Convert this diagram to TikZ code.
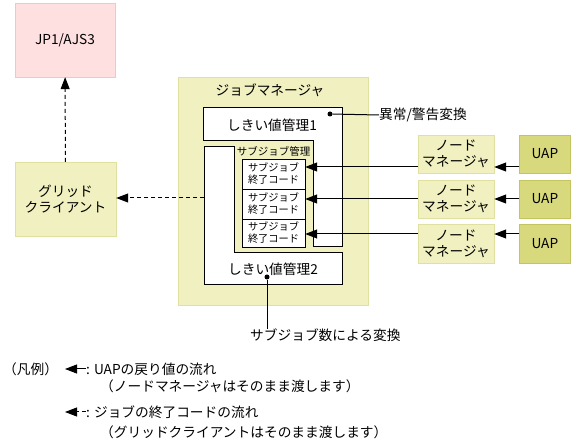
\documentclass[tikz,border=0pt]{standalone}
\usepackage{fontspec}
\setmainfont{Noto Sans CJK JP}
\usepackage{xcolor}
\usetikzlibrary{positioning, arrows.meta}
\definecolor{ajsfill}{RGB}{255, 224, 224}
\definecolor{ajsline}{RGB}{246, 196, 196}
\definecolor{pale}{RGB}{240, 240, 192}
\definecolor{paleline}{RGB}{224, 224, 160}
\definecolor{olive}{RGB}{216, 216, 124}
\definecolor{oliveline}{RGB}{196, 196, 96}

\begin{document}
\begin{tikzpicture}[
    x=1pt, y=-1pt,
    every node/.style={font=\fontsize{13.7}{16}\selectfont},
    product/.style={rectangle, draw=ajsline, fill=ajsfill, minimum width=100pt,
                    minimum height=74pt, align=center},
    comp/.style={rectangle, draw=paleline, fill=pale, minimum width=76pt,
                 minimum height=38pt, align=center, inner sep=1pt},
    uapbox/.style={rectangle, draw=oliveline, fill=olive, minimum width=51pt,
                   minimum height=38pt, align=center},
    subjob/.style={rectangle, draw=black, fill=white, minimum width=63pt,
                   inner sep=0pt, align=center, font=\fontsize{10.2}{12}\selectfont},
    txt/.style={inner sep=0pt},
    wall/.style={draw=black, line width=1pt, fill=white},
    arr/.style={-{Triangle[length=12pt, width=9pt]}, line width=1pt},
    darr/.style={-{Triangle[length=12pt, width=9pt]}, line width=1pt,
                 dash pattern=on 4pt off 3pt},
    dot/.style={circle, fill=black, inner sep=0pt, minimum size=5pt}
]
\useasboundingbox (0,0) rectangle (573,443);

% JP1/AJS3 and grid client
\node[product] (ajs) at (65,40) {JP1/AJS3};
\node[comp, minimum width=101pt, minimum height=74pt] (grid) at (65.5,199)
     {グリッド\\クライアント};

% Job manager
\node[rectangle, draw=paleline, fill=pale, minimum width=190pt,
      minimum height=228pt] (jobmgr) at (273,191) {};
\node[txt] (jmtitle) at (270,90) {ジョブマネージャ};

% Threshold managers
\draw[wall] (203,108) -- (342,108) -- (342,247) -- (313,247) -- (313,141)
            -- (203,141) -- cycle;
\draw[wall] (204,147) -- (234,147) -- (234,253) -- (342,253) -- (342,285)
            -- (204,285) -- cycle;
\node[txt] (thr1) at (272,125) {しきい値管理1};
\node[txt] (thr2) at (273,269) {しきい値管理2};
\coordinate (thr2w) at (204,198);

% Subjob management
\node[txt, font=\fontsize{10.5}{12}\selectfont] (sjmgr) at (273.5,151) {サブジョブ管理};
\node[subjob, minimum height=30pt] (sj1) at (273.5,174) {サブジョブ\\終了コード};
\node[subjob, minimum height=30pt] (sj2) at (273.5,204) {サブジョブ\\終了コード};
\node[subjob, minimum height=28pt] (sj3) at (273.5,233) {サブジョブ\\終了コード};

% Node managers and UAPs
\node[comp] (nm1) at (456,154) {ノード\\マネージャ};
\node[comp] (nm2) at (456,199) {ノード\\マネージャ};
\node[comp, minimum height=39pt] (nm3) at (456,243.5) {ノード\\マネージャ};
\node[uapbox, right=25pt of nm1] (uap1) {UAP};
\node[uapbox, right=25pt of nm2] (uap2) {UAP};
\node[uapbox, minimum height=39pt, right=25pt of nm3] (uap3) {UAP};

\coordinate (lvl1) at (0,167);
\coordinate (lvl2) at (0,199);
\coordinate (lvl3) at (0,234);

% Arrows: UAP -> node manager -> subjob
\draw[arr] (uap1.west |- lvl1) -- (nm1.east |- lvl1);
\draw[arr] (uap2.west |- lvl2) -- (nm2.east |- lvl2);
\draw[arr] (uap3.west |- lvl3) -- (nm3.east |- lvl3);
\draw[arr] (nm1.west |- lvl1) -- (sj1.east |- lvl1);
\draw[arr] (nm2.west |- lvl2) -- (sj2.east |- lvl2);
\draw[arr] (nm3.west |- lvl3) -- (sj3.east |- lvl3);

% Conversions
\node[dot] (dot1) at (330,114) {};
\node[txt, anchor=west] (conv1) at (379,115) {異常/警告変換};
\draw[line width=1pt] (dot1) -- (conv1.west);
\node[dot] (dot2) at (267,277) {};
\node[txt, anchor=north west] (conv2) at (250,329) {サブジョブ数による変換};
\draw[line width=1pt] (dot2) -- (dot2 |- conv2.north);

% Arrows: job end code
\draw[darr] (thr2w) -- (grid.east |- thr2w);
\draw[darr] (grid) -- (ajs);

% Legend
\node[txt, anchor=west] (legend) at (3,369) {（凡例）};
\node[txt, anchor=west] (lg1) at (86,369) {: UAPの戻り値の流れ};
\node[txt, anchor=west] (lg1b) at (100,386) {（ノードマネージャはそのまま渡します）};
\node[txt, anchor=west] (lg2) at (86,412) {: ジョブの終了コードの流れ};
\node[txt, anchor=west] (lg2b) at (100,432) {（グリッドクライアントはそのまま渡します）};
\coordinate (lgtip1) at (65,369);
\coordinate (lgtip2) at (65,412);
\draw[arr] (lg1.west) -- (lgtip1);
\draw[darr] (lg2.west) -- (lgtip2);

\end{tikzpicture}
\end{document}
